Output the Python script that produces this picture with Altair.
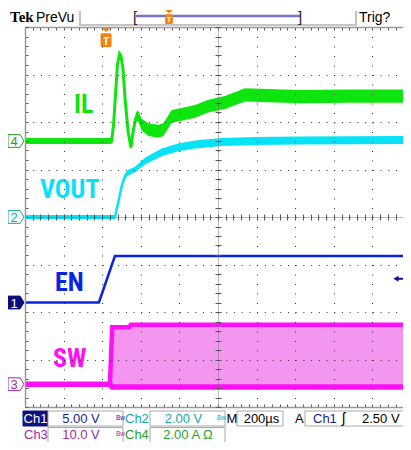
import altair as alt
import pandas as pd

# ---------------- scope settings ----------------
TIME_PER_DIV = 200          # µs / div
N_XDIV, N_YDIV = 10, 8
TRIG_T = 420                # trigger time, µs from left edge of screen
TRIG_LEVEL = 2.50           # V on Ch1

# (units per div, ground-marker position in div from bottom)
EN_SCALE, EN_POS = 5.0, 2.2        # Ch1
VOUT_SCALE, VOUT_POS = 2.0, 4.0    # Ch2
SW_SCALE, SW_POS = 10.0, 0.48      # Ch3
IL_SCALE, IL_POS = 2.0, 5.6        # Ch4

# ---------------- traces ----------------
EN_T = [0, 383, 466, 2000]
EN_V = [0.0, 0.0, 4.9, 4.9]

VOUT_T = [0, 466, 483, 501, 518, 535, 570, 622, 708, 793, 881, 1021, 1192, 1425, 2000]
VOUT_V = [0.0, 0.0, 0.61, 1.30, 1.72, 1.87, 2.00, 2.35, 2.72, 2.93, 3.05, 3.16, 3.20, 3.22, 3.24]
VOUT_N = [0.08, 0.08, 0.10, 0.10, 0.10, 0.12, 0.12, 0.14, 0.16, 0.16, 0.17, 0.17, 0.17, 0.17, 0.17]

IL_T = [0, 449, 459, 469, 479, 490, 497, 508, 518, 534,
        549, 562, 575, 585, 605, 639, 691, 717, 760, 812,
        881, 950, 1036, 1140, 1218, 1425, 1684, 2000]
IL_A = [0.0, 0.0, 0.69, 1.96, 3.22, 3.68, 3.60, 3.01, 1.83, 0.40,
        -0.27, 0.48, 0.99, 1.07, 0.69, 0.48, 0.41, 0.48, 1.04, 1.12,
        1.25, 1.47, 1.62, 1.94, 1.92, 1.87, 1.89, 1.89]
IL_N = [0.13, 0.13, 0.10, 0.10, 0.10, 0.10, 0.10, 0.10, 0.10, 0.10,
        0.12, 0.15, 0.20, 0.22, 0.25, 0.27, 0.27, 0.27, 0.27, 0.27,
        0.27, 0.27, 0.27, 0.28, 0.28, 0.28, 0.28, 0.28]

SW_T = [0, 440, 452, 540, 548, 2000]
SW_LO = [0.0, 0.0, -0.6, -0.6, -0.6, -0.6]
SW_HI = [0.0, 0.0, 12.0, 12.0, 12.5, 12.5]

TRACE_LABELS = ["IL", "VOUT", "EN", "SW"]

# ---------------- colours / fonts ----------------
IL_C, VOUT_C, EN_C, SW_C, SW_FILL = "#0ee40e", "#08e2f6", "#0a24e4", "#ff10f8", "#f496f0"
NAVY, TEAL, PURPLE, GREEN = "#1c1c96", "#1aa6a6", "#a02aa6", "#2aa02a"
GRID_C, TICK_C, FRAME_C = "#333333", "#555555", "#9a9a9a"
SFONT = "Liberation Sans, Arial, sans-serif"
LFONT = "Liberation Sans Narrow, Arial Narrow, Roboto Condensed, Liberation Sans, sans-serif"

PX_PER_XDIV = 38.6           # screen geometry of the graticule
W, H = 378, 380              # visible part of the 10 x 8 div screen
X_MAX = W / PX_PER_XDIV * TIME_PER_DIV
XC = 5 * PX_PER_XDIV         # pixel position of the centre vertical line


def to_div(vals, scale, pos):
    return [pos + v / scale for v in vals]


en = pd.DataFrame({"t": EN_T, "y": to_div(EN_V, EN_SCALE, EN_POS)})
vout = pd.DataFrame({
    "t": VOUT_T,
    "y": to_div(VOUT_V, VOUT_SCALE, VOUT_POS),
    "lo": to_div([v - n for v, n in zip(VOUT_V, VOUT_N)], VOUT_SCALE, VOUT_POS),
    "hi": to_div([v + n for v, n in zip(VOUT_V, VOUT_N)], VOUT_SCALE, VOUT_POS),
})
il = pd.DataFrame({
    "t": IL_T,
    "y": to_div(IL_A, IL_SCALE, IL_POS),
    "lo": to_div([v - n for v, n in zip(IL_A, IL_N)], IL_SCALE, IL_POS),
    "hi": to_div([v + n for v, n in zip(IL_A, IL_N)], IL_SCALE, IL_POS),
})
sw = pd.DataFrame({"t": SW_T, "lo": to_div(SW_LO, SW_SCALE, SW_POS),
                   "hi": to_div(SW_HI, SW_SCALE, SW_POS)})

xs = alt.Scale(domain=[0, X_MAX], nice=False, zero=False, clamp=True)
ys = alt.Scale(domain=[0, N_YDIV], nice=False, zero=False)

MAJ_X = [i * TIME_PER_DIV for i in range(N_XDIV + 1) if i * TIME_PER_DIV <= X_MAX]
MAJ_Y = list(range(N_YDIV + 1))
MIN_X = [i * TIME_PER_DIV / 5 for i in range(N_XDIV * 5 + 1) if i * TIME_PER_DIV / 5 <= X_MAX]
MIN_Y = [i / 5 for i in range(N_YDIV * 5 + 1)]

grid_x = alt.Axis(orient="bottom", values=MAJ_X, grid=True, gridColor=GRID_C, gridDash=[1, 8.5],
                  gridWidth=1, gridOpacity=1, labels=False, ticks=False, domain=False, title=None, zindex=1)
grid_y = alt.Axis(orient="left", values=MAJ_Y, grid=True, gridColor=GRID_C, gridDash=[1, 6.72],
                  gridWidth=1, gridOpacity=1, labels=False, ticks=False, domain=False, title=None, zindex=1)


def tick_axis(orient, offset, values, style=None):
    kw = dict(orient=orient, offset=offset, values=values, grid=False, labels=False, ticks=True,
              tickSize=3, tickColor=TICK_C, tickWidth=1, title=None, zindex=1)
    if style == "centre":
        kw.update(domain=True, domainColor="#777777", domainDash=[1, 1], domainWidth=1)
    elif style == "frame":
        kw.update(domain=True, domainColor=FRAME_C, domainWidth=1.5)
    else:
        kw.update(domain=False)
    return alt.Axis(**kw)


def X(ax=None):
    return alt.X("t:Q", scale=xs, axis=ax)


def Y(field, ax=None):
    return alt.Y(field, scale=ys, axis=ax)


layers = []
# SW band and edges
layers.append(alt.Chart(sw).mark_area(color=SW_FILL, opacity=1)
              .encode(x=X(grid_x), y=Y("lo:Q", grid_y), y2="hi:Q"))
layers.append(alt.Chart(sw).mark_line(color=SW_C, strokeWidth=5.5)
              .encode(x=X(tick_axis("bottom", -H / 2, MIN_X, "centre")),
                      y=Y("lo:Q", tick_axis("left", -XC, MIN_Y, "centre"))))
layers.append(alt.Chart(sw).mark_line(color=SW_C, strokeWidth=4.5)
              .encode(x=X(tick_axis("top", -H / 2, MIN_X)),
                      y=Y("hi:Q", tick_axis("right", -(W - XC), MIN_Y))))
# EN
layers.append(alt.Chart(en).mark_line(color=EN_C, strokeWidth=2.6)
              .encode(x=X(tick_axis("bottom", -H, MIN_X, "frame")),
                      y=Y("y:Q", tick_axis("right", -W, MIN_Y, "frame"))))
# VOUT
layers.append(alt.Chart(vout).mark_area(color=VOUT_C, opacity=1)
              .encode(x=X(tick_axis("top", -H, MIN_X, "frame")),
                      y=Y("lo:Q"), y2="hi:Q"))
layers.append(alt.Chart(vout).mark_line(color=VOUT_C, strokeWidth=2.5)
              .encode(x=X(), y=Y("y:Q")))
# IL
layers.append(alt.Chart(il).mark_area(color=IL_C, opacity=1)
              .encode(x=X(), y=Y("lo:Q"), y2="hi:Q"))
layers.append(alt.Chart(il).mark_line(color=IL_C, strokeWidth=3)
              .encode(x=X(), y=Y("y:Q")))

ONE = pd.DataFrame({"k": [0]})


def txt(s, x, y, size=13, color="black", weight="normal", font=SFONT, align="left"):
    return (alt.Chart(pd.DataFrame({"s": [s]}))
            .mark_text(align=align, baseline="alphabetic", fontSize=size, font=font,
                       fontWeight=weight, color=color)
            .encode(text="s:N", x=alt.value(x), y=alt.value(y)))


def box(x1, x2, y1, y2, fill="white", stroke="#a8a8a8"):
    return (alt.Chart(ONE).mark_rect(fill=fill, stroke=stroke, strokeWidth=1)
            .encode(x=alt.value(x1), x2=alt.value(x2), y=alt.value(y1), y2=alt.value(y2)))


def hrule(x1, x2, y, color, w):
    return (alt.Chart(ONE).mark_rule(color=color, strokeWidth=w)
            .encode(x=alt.value(x1), x2=alt.value(x2), y=alt.value(y)))


def vrule(x, y1, y2, color, w):
    return (alt.Chart(ONE).mark_rule(color=color, strokeWidth=w)
            .encode(x=alt.value(x), y=alt.value(y1), y2=alt.value(y2)))


# trace labels
for s, x, y, c in zip(TRACE_LABELS, [49, 15, 30, 28], [86, 171, 264, 340], [IL_C, VOUT_C, EN_C, SW_C]):
    layers.append(txt(s, x, y, size=26, color=c, weight="bold", font=LFONT))

# ground markers on the left
GND_PATH = "M-1,-0.8 L0.5,-0.8 L1,0 L0.5,0.8 L-1,0.8 Z"
for num, pos, stroke, fill, tcol in [("4", IL_POS, GREEN, "white", GREEN),
                                     ("2", VOUT_POS, TEAL, "white", TEAL),
                                     ("1", EN_POS, "#0c0c80", "#0c0c80", "white"),
                                     ("3", SW_POS, PURPLE, "white", PURPLE)]:
    d = pd.DataFrame({"y": [pos], "n": [num]})
    layers.append(alt.Chart(d).mark_point(shape=GND_PATH, size=256, filled=True, fill=fill,
                                          stroke=stroke, strokeWidth=1, opacity=1)
                  .encode(x=alt.value(-9), y=Y("y:Q")))
    layers.append(alt.Chart(d).mark_text(fontSize=13, font=SFONT, color=tcol, align="center",
                                         baseline="middle", dx=-2, dy=1)
                  .encode(x=alt.value(-9), y=Y("y:Q"), text="n:N"))

# trigger level arrow (right edge) and trigger position marker (top)
ARROW = "M-0.9,0 L0.1,-0.6 L0.1,-0.2 L1,-0.2 L1,0.2 L0.1,0.2 L0.1,0.6 Z"
lvl = pd.DataFrame({"y": [EN_POS + TRIG_LEVEL / EN_SCALE]})
layers.append(alt.Chart(lvl).mark_point(shape=ARROW, size=100, filled=True, color="#0c0c90", opacity=1)
              .encode(x=alt.value(373), y=Y("y:Q")))

TMARK = ("M-0.55,-1 L0.55,-1 L0,-0.5 Z M-0.45,-0.38 L0.45,-0.38 L0.55,-0.28 L0.55,0.9 "
         "L0.45,1 L-0.45,1 L-0.55,0.9 L-0.55,-0.28 Z")
trg = pd.DataFrame({"t": [TRIG_T], "s": ["T"]})
layers.append(alt.Chart(trg).mark_point(shape=TMARK, size=400, filled=True, color="#f5820f", opacity=1)
              .encode(x=X(), y=alt.value(10)))
layers.append(alt.Chart(trg).mark_text(fontSize=11, fontWeight="bold", font=SFONT, color="white",
                                       align="center", baseline="alphabetic")
              .encode(x=X(), y=alt.value(18), text="s:N"))

# ---------------- top status bar ----------------
layers += [
    txt("Tek", -15, -5, size=15, weight="bold", font="Liberation Serif, DejaVu Serif, serif"),
    txt("PreVu", 11, -5, size=14),
    vrule(55, -16, -1, "#c4c4c4", 2),
    vrule(331, -16, -1, "#c4c4c4", 2),
    hrule(55, 331, -2, "#c4c4c4", 2),
    hrule(111, 275, -11, "#7474c8", 2.5),
    txt("[", 108, -5, size=15, color="#222222"),
    txt("]", 273, -5, size=15, color="#222222"),
    txt("Trig?", 334, -5, size=14),
]
small_t = pd.DataFrame({"s": ["T"]})
layers.append(alt.Chart(small_t).mark_point(shape=TMARK, size=196, filled=True, color="#f5820f", opacity=1)
              .encode(x=alt.value(144), y=alt.value(-10)))
layers.append(alt.Chart(small_t).mark_text(fontSize=8, fontWeight="bold", font=SFONT, color="white",
                                           align="center", baseline="alphabetic")
              .encode(x=alt.value(144), y=alt.value(-5), text="s:N"))

# ---------------- bottom readout ----------------
R1, R2 = 395.5, 412
layers += [
    box(-2, 23, 384, 399, fill="#101080", stroke="#101080"),
    box(23, 98, 384, 399), box(125, 200, 384, 399), box(212, 258, 384, 399), box(280, 384, 384, 399),
    box(23, 98, 400.5, 416), box(125, 200, 400.5, 416),
    txt("Ch1", 10.5, R1, color="white", align="center"),
    txt("5.00 V", 56, R1, color=NAVY, align="center"),
    txt("Bw", 91, R1 - 3, size=6.5, color=NAVY),
    txt("Ch2", 100, R1, color=TEAL),
    txt("2.00 V", 158.5, R1, color=TEAL, align="center"),
    txt("Bw", 192, R1 - 3, size=6.5, color=TEAL),
    txt("M", 201.5, R1),
    txt("200µs", 236.5, R1, align="center"),
    txt("A", 270, R1),
    txt("Ch1", 288, R1, color=NAVY),
    txt("ʃ", 317, R1, size=14),
    txt("2.50 V", 337, R1),
    txt("Ch3", -1, R2, color=PURPLE),
    txt("10.0 V", 56, R2, color=PURPLE, align="center"),
    txt("Bw", 91, R2 - 3, size=6.5, color=PURPLE),
    txt("Ch4", 100, R2, color=GREEN),
    txt("2.00 A Ω", 163, R2, color=GREEN, align="center"),
]

chart = (alt.layer(*layers)
         .resolve_axis(x="independent", y="independent")
         .properties(width=W, height=H, background="white",
                     autosize=alt.AutoSizeParams(type="none"),
                     padding={"left": 17, "top": 19, "right": 0, "bottom": 35})
         .configure_view(strokeWidth=0))

chart.save("out.html", embed_options={"renderer": "svg", "actions": False})
